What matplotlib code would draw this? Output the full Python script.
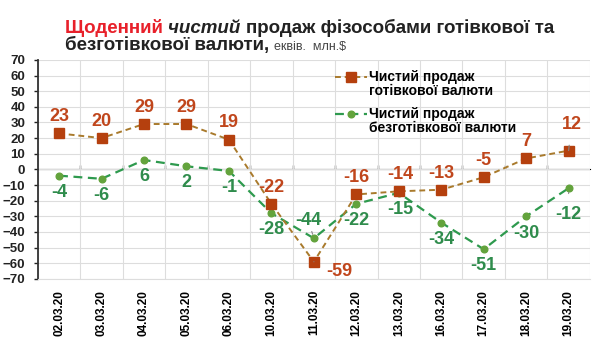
import matplotlib
matplotlib.use("Agg")
import matplotlib.pyplot as plt
from matplotlib.legend_handler import HandlerLine2D
import numpy as np

dates = ["02.03.20", "03.03.20", "04.03.20", "05.03.20", "06.03.20", "10.03.20", "11.03.20",
         "12.03.20", "13.03.20", "16.03.20", "17.03.20", "18.03.20", "19.03.20"]
cash = [23, 20, 29, 29, 19, -22, -59, -16, -14, -13, -5, 7, 12]
noncash = [-4, -6, 6, 2, -1, -28, -44, -22, -15, -34, -51, -30, -12]

# label offsets in points (dx, dy), leader flag
cash_off = [(0, 12), (0, 12), (0, 12), (0, 12), (0, 12), (0, 12), (18, -7),
            (0, 12), (1, 12), (0, 12), (0, 12), (0, 12), (2, 19)]
cash_lead = [False] * 6 + [True] + [False] * 5 + [True]
nc_off = [(0, -12), (0, -12), (0, -12), (0, -12), (0, -12), (0, -12), (-4, 13),
          (0, -12), (1, -12), (0, -12), (0, -12), (0, -12), (0, -19)]
nc_lead = [False] * 6 + [True] + [False] * 5 + [True]

BROWN_M = "#b5400e"
BROWN_L = "#a97a2c"
BROWN_T = "#c0461c"
GREEN_L = "#2e9a4e"
GREEN_M = "#63a33c"
GREEN_T = "#2f8c4c"

plt.rcParams["font.family"] = ["Liberation Sans", "DejaVu Sans"]


class FirstLineHandler(HandlerLine2D):
    # put the legend key level with the first line of a two-line label
    def create_artists(self, legend, orig_handle, xdescent, ydescent, width, height, fontsize, trans):
        arts = super().create_artists(legend, orig_handle, xdescent, ydescent,
                                      width, height, fontsize, trans)
        for a in arts:
            a.set_ydata(np.asarray(a.get_ydata()) + 0.55 * fontsize)
        return arts


fig = plt.figure(figsize=(6.1, 3.5), dpi=100)
ax = fig.add_axes([0.062, 0.203, 0.905, 0.626])

x = np.arange(len(dates))
l1, = ax.plot(x, cash, ls=(0, (3, 2)), color=BROWN_L, lw=1.4, marker="s", ms=7.5,
              mfc=BROWN_M, mec=BROWN_M, zorder=4, label="Чистий продаж\nготівкової валюти")
l2, = ax.plot(x, noncash, ls=(0, (4, 2.5)), color=GREEN_L, lw=1.6, marker="o", ms=4.8,
              mfc=GREEN_M, mec=GREEN_M, zorder=3, label="Чистий продаж\nбезготівкової валюти")

for xi, v, (dx, dy), lead in zip(x, cash, cash_off, cash_lead):
    ax.annotate(str(v), (xi, v), xytext=(dx, dy), textcoords="offset points",
                ha="center", va="center", fontsize=13, fontweight="bold", color=BROWN_T,
                arrowprops=dict(arrowstyle="-", color="#888888", lw=0.8, shrinkA=7, shrinkB=5) if lead else None,
                zorder=6)
for xi, v, (dx, dy), lead in zip(x, noncash, nc_off, nc_lead):
    ax.annotate(str(v), (xi, v), xytext=(dx, dy), textcoords="offset points",
                ha="center", va="center", fontsize=13, fontweight="bold", color=GREEN_T,
                arrowprops=dict(arrowstyle="-", color="#888888", lw=0.8, shrinkA=7, shrinkB=3) if lead else None,
                zorder=6)

ax.set_xlim(-0.5, len(dates) - 0.5)
ax.set_ylim(-70, 70)
ax.set_yticks(np.arange(-70, 71, 10))
ax.set_xticks(x)
ax.set_xticklabels(dates, rotation=90, fontsize=8.5, fontweight="bold")
ax.set_xticks(np.arange(-0.5, len(dates), 1), minor=True)
ax.tick_params(axis="x", which="both", length=0, pad=8)
ax.tick_params(axis="y", labelsize=9.5, length=3, width=1, pad=6, colors="#222222")
for lbl in ax.get_yticklabels():
    lbl.set_fontweight("bold")
ax.grid(axis="y", color="#dddddd", lw=0.8)
ax.grid(axis="x", which="minor", color="#dddddd", lw=0.8)
ax.set_axisbelow(True)
for s in ["top", "right"]:
    ax.spines[s].set_visible(False)
ax.spines["bottom"].set_color("#dddddd")
ax.spines["left"].set_color("#333333")
ax.spines["left"].set_linewidth(1.3)

# zero axis line with small ticks
sec = ax.secondary_xaxis(0.5)
sec.set_xticks(np.arange(0.5, len(dates) - 1, 1))
sec.set_xticklabels([])
sec.tick_params(length=3, width=1, colors="#333333")
sec.spines["bottom"].set_color("#333333")
sec.spines["bottom"].set_linewidth(1.6)

leg = ax.legend(loc="upper left", bbox_to_anchor=(0.515, 1.01), frameon=False,
                prop={"weight": "bold", "size": 10}, handlelength=2.3,
                labelspacing=0.65, handletextpad=0.15,
                handler_map={l1: FirstLineHandler(), l2: FirstLineHandler()})
for t in leg.get_texts():
    t.set_linespacing(1.0)

# title pieces
fig.canvas.draw()
r = fig.canvas.get_renderer()
W = fig.bbox.width


def chain(parts, x0, y):
    xx = x0
    for s, kw in parts:
        t = fig.text(xx, y, s, ha="left", va="baseline", **kw)
        xx = t.get_window_extent(r).x1 / W


chain([("Щоденний ", dict(color="#e8202a", fontsize=13.5, fontweight="bold")),
       ("чистий ", dict(color="#222222", fontsize=13.5, fontweight="bold", style="italic")),
       ("продаж фізособами готівкової та", dict(color="#222222", fontsize=13.5, fontweight="bold"))],
      65 / 610, 1 - 33 / 350)
chain([("безготівкової валюти, ", dict(color="#222222", fontsize=13.5, fontweight="bold")),
       ("еквів.  млн.$", dict(color="#444444", fontsize=9))],
      65 / 610, 1 - 50 / 350)

fig.savefig("out.png", dpi=100)
